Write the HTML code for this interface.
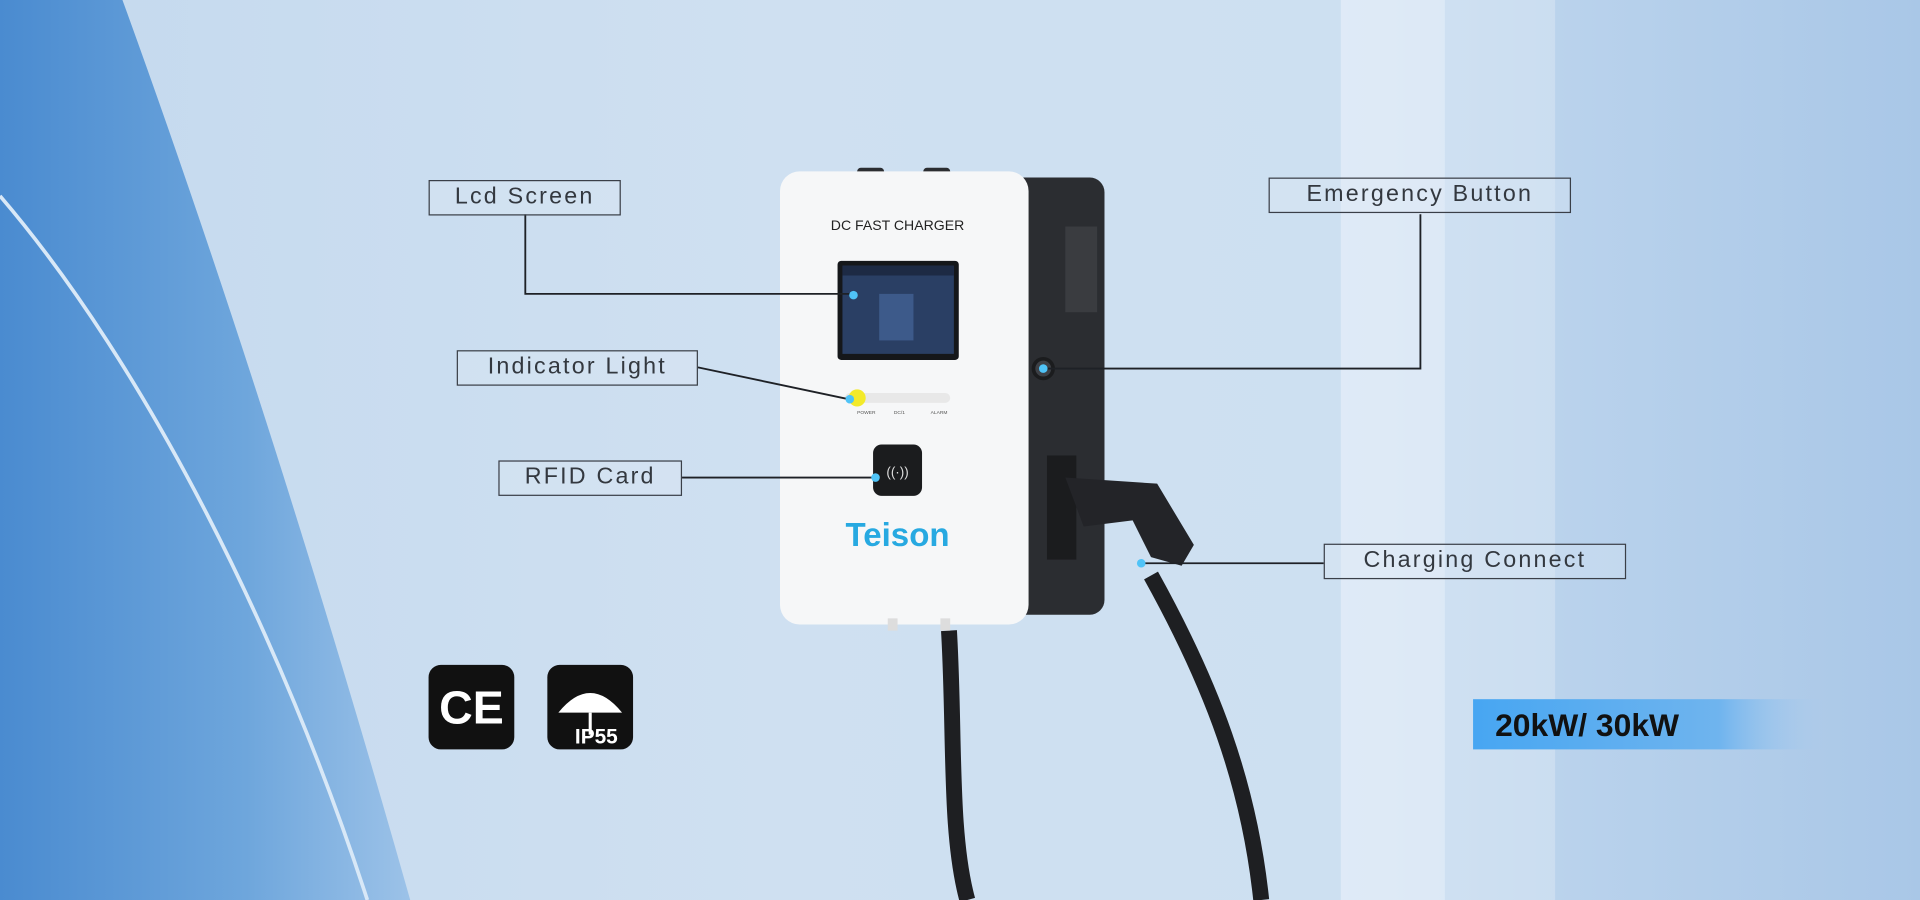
<!DOCTYPE html>
<html><head><meta charset="utf-8"><style>
html,body{margin:0;padding:0;width:1920px;height:900px;overflow:hidden;background:#c9dcef}
#s{position:absolute;left:0;top:0;width:1568px;height:735px;transform:scale(1.22449);transform-origin:0 0;overflow:hidden;
background:linear-gradient(90deg,#c4d9ee 0%,#cfe0f1 40%,#cde0f1 70%,#b9d2ec 82%,#a9c7e7 100%);font-family:"Liberation Sans",sans-serif}
.lb{position:absolute;border:1.5px solid #3a3f48;background:rgba(225,235,245,.3);color:#33383f;font-size:19px;letter-spacing:1.8px;font-weight:normal;text-align:center;line-height:26px;box-sizing:border-box;height:29px}
</style></head><body><div id="s">
<svg width="1568" height="735" style="position:absolute;left:0;top:0">
<defs>
<linearGradient id="lg" x1="0" x2="1"><stop offset="0" stop-color="#4a8bd0"/><stop offset=".6" stop-color="#6ea6dc"/><stop offset="1" stop-color="#9cc2e8"/></linearGradient>
<linearGradient id="bn" x1="0" x2="1"><stop offset="0" stop-color="#47a6f2"/><stop offset=".7" stop-color="#6fb4ee"/><stop offset="1" stop-color="#a9cbef" stop-opacity="0"/></linearGradient>
</defs>
<path d="M0 0 L100 0 C180 220 260 470 335 735 L0 735 Z" fill="url(#lg)"/>
<path d="M0 160 C120 300 230 520 300 735" stroke="#d8e8f7" stroke-width="3" fill="none"/>
<rect x="1095" y="0" width="85" height="735" fill="#e4eef8" opacity=".75"/>
<rect x="1180" y="0" width="90" height="735" fill="#d5e5f4" opacity=".6"/>
<path d="M775 515 C780 600 775 680 790 735" stroke="#1e1f22" stroke-width="13" fill="none"/>
<path d="M940 470 C990 560 1020 640 1030 735" stroke="#1e1f22" stroke-width="13" fill="none"/>
<rect x="820" y="145" width="82" height="357" rx="12" fill="#2b2d31"/>
<rect x="870" y="185" width="26" height="70" fill="#3a3c40"/>
<rect x="700" y="137" width="22" height="10" rx="3" fill="#2b2d31"/><rect x="754" y="137" width="22" height="10" rx="3" fill="#2b2d31"/>
<rect x="637" y="140" width="203" height="370" rx="16" fill="#f6f7f8"/>
<text x="733" y="188" font-size="11.5" text-anchor="middle" fill="#222">DC FAST CHARGER</text>
<rect x="684" y="213" width="99" height="81" rx="3" fill="#15171a"/>
<rect x="688" y="217" width="91" height="72" fill="#2a3f64"/>
<rect x="688" y="217" width="91" height="8" fill="#1d2a44"/>
<rect x="718" y="240" width="28" height="38" fill="#3d5a8a"/>
<rect x="690" y="321" width="86" height="8" rx="4" fill="#e8e8e8"/>
<circle cx="700" cy="325" r="7" fill="#f3ea2a"/>
<text x="700" y="338" font-size="4" fill="#555">POWER</text><text x="730" y="338" font-size="4" fill="#555">DC/1</text><text x="760" y="338" font-size="4" fill="#555">ALARM</text>
<rect x="713" y="363" width="40" height="42" rx="7" fill="#1b1c1e"/>
<text x="733" y="389" font-size="11" text-anchor="middle" fill="#ddd">((·))</text>
<text x="733" y="446" font-size="27" font-weight="bold" text-anchor="middle" fill="#27a9e1">Teison</text>
<circle cx="852" cy="301" r="8" fill="#3d4046" stroke="#1b1c1e" stroke-width="3"/>
<rect x="855" y="372" width="24" height="85" fill="#1b1c1e"/>
<path d="M870 390 L945 395 L975 445 L965 462 L940 455 L925 425 L885 430 Z" fill="#232428"/>
<rect x="725" y="505" width="8" height="10" fill="#ddd"/><rect x="768" y="505" width="8" height="10" fill="#ddd"/>
<g stroke="#1e2126" stroke-width="1.5" fill="none">
<polyline points="429,175 429,240 700,240"/>
<line x1="570" y1="300" x2="693" y2="326"/>
<line x1="557" y1="390" x2="715" y2="390"/>
<polyline points="1160,175 1160,301 852,301"/>
<line x1="1081" y1="460" x2="932" y2="460"/>
</g>
<g fill="#4fc3f7"><circle cx="697" cy="241" r="3.5"/><circle cx="694" cy="326" r="3.5"/><circle cx="715" cy="390" r="3.5"/><circle cx="852" cy="301" r="3.5"/><circle cx="932" cy="460" r="3.5"/></g>
<rect x="350" y="543" width="70" height="69" rx="10" fill="#111"/>
<text x="385" y="591" font-size="38" font-weight="bold" text-anchor="middle" fill="#fff">CE</text>
<rect x="447" y="543" width="70" height="69" rx="10" fill="#111"/>
<path d="M456 582 Q482 550 508 582 Z" fill="#fff"/><line x1="482" y1="582" x2="482" y2="600" stroke="#fff" stroke-width="2.5"/>
<text x="487" y="607" font-size="17" font-weight="bold" text-anchor="middle" fill="#fff">IP55</text>
<rect x="1203" y="571" width="287" height="41" fill="url(#bn)"/>
<text x="1221" y="601" font-size="26" font-weight="bold" fill="#111">20kW/ 30kW</text>
</svg>
<div class="lb" style="left:350px;top:147px;width:157px">Lcd Screen</div>
<div class="lb" style="left:373px;top:286px;width:197px">Indicator Light</div>
<div class="lb" style="left:407px;top:376px;width:150px">RFID Card</div>
<div class="lb" style="left:1036px;top:145px;width:247px">Emergency Button</div>
<div class="lb" style="left:1081px;top:444px;width:247px">Charging Connect</div>
</div></body></html>
